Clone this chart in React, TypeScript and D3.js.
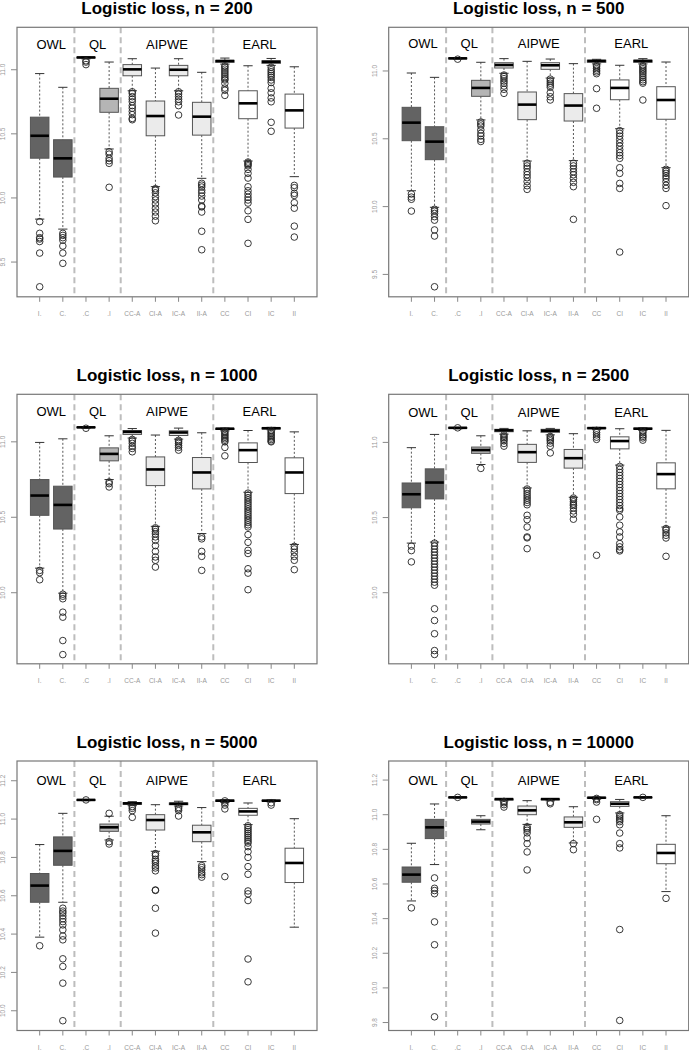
import * as d3 from 'd3';

const categories = ['I.', 'C.', '.C', '.I', 'CC-A', 'CI-A', 'IC-A', 'II-A', 'CC', 'CI', 'IC', 'II'];
const groupLabels = ['OWL', 'QL', 'AIPWE', 'EARL'];
const groupSizes = [2, 2, 4, 4];
const sampleSizes = [200, 500, 1000, 2500, 5000, 10000];

// each row: [lower whisker, q1, median, q3, upper whisker]
const stats200 = [
  [9.835, 10.31, 10.485, 10.63, 10.97],
  [9.757, 10.163, 10.309, 10.454, 10.863],
  [11.085, 11.092, 11.096, 11.098, 11.1],
  [10.382, 10.668, 10.774, 10.855, 11.06],
  [10.836, 10.953, 11.003, 11.04, 11.086],
  [10.088, 10.485, 10.639, 10.756, 11.013],
  [10.836, 10.953, 11.0, 11.034, 11.086],
  [10.153, 10.49, 10.634, 10.746, 10.98],
  [11.044, 11.058, 11.068, 11.073, 11.091],
  [10.288, 10.618, 10.738, 10.836, 11.031],
  [11.034, 11.05, 11.062, 11.07, 11.088],
  [10.166, 10.545, 10.683, 10.81, 11.023],
];
const outliers200 = [
  [9.815, 9.724, 9.69, 9.68, 9.66, 9.57, 9.307],
  [9.724, 9.708, 9.69, 9.67, 9.625, 9.57, 9.49],
  [11.07, 11.06, 11.04],
  [10.36, 10.342, 10.309, 10.29, 10.27, 10.083],
  [10.828, 10.815, 10.79, 10.77, 10.75, 10.72, 10.7, 10.675, 10.65, 10.62, 10.61],
  [10.072, 10.06, 10.04, 10.01, 9.984, 9.953, 9.92, 9.89, 9.858, 9.822],
  [10.828, 10.81, 10.79, 10.77, 10.75, 10.72, 10.647],
  [10.114, 10.1, 10.085, 10.06, 10.04, 10.015, 9.984, 9.937, 9.93, 9.89, 9.74, 9.596],
  [11.03, 11.02, 11.005, 10.99, 10.975, 10.96, 10.945, 10.93, 10.92, 10.894, 10.857, 10.84, 10.8],
  [10.28, 10.27, 10.26, 10.25, 10.223, 10.192, 10.155, 10.087, 10.056, 10.03, 10.005, 9.984, 9.96, 9.9, 9.833, 9.646],
  [11.02, 11.0, 10.985, 10.97, 10.955, 10.94, 10.92, 10.9, 10.855, 10.82, 10.78, 10.75, 10.59, 10.52],
  [10.098, 10.08, 10.036, 10.02, 9.963, 9.92, 9.78, 9.695],
];

const stats500 = [
  [10.117, 10.486, 10.619, 10.732, 10.985],
  [9.995, 10.346, 10.479, 10.589, 10.953],
  [11.088, 11.09, 11.093, 11.096, 11.098],
  [10.639, 10.813, 10.875, 10.931, 11.064],
  [10.983, 11.022, 11.044, 11.061, 11.091],
  [10.336, 10.641, 10.752, 10.845, 11.071],
  [10.948, 11.012, 11.042, 11.061, 11.088],
  [10.339, 10.631, 10.745, 10.833, 11.054],
  [11.052, 11.064, 11.074, 11.079, 11.086],
  [10.574, 10.788, 10.875, 10.934, 11.042],
  [11.052, 11.064, 11.074, 11.079, 11.091],
  [10.287, 10.644, 10.786, 10.884, 11.066],
];
const outliers500 = [
  [10.093, 10.07, 10.054, 9.967],
  [9.98, 9.966, 9.95, 9.926, 9.9, 9.828, 9.783, 9.409],
  [11.087],
  [10.624, 10.609, 10.594, 10.565, 10.54, 10.521, 10.496, 10.48],
  [10.97, 10.958, 10.943, 10.926, 10.91, 10.889, 10.865, 10.835],
  [10.32, 10.3, 10.282, 10.257, 10.235, 10.213, 10.184, 10.154, 10.127],
  [10.94, 10.925, 10.91, 10.895, 10.88, 10.84, 10.81, 10.786],
  [10.32, 10.3, 10.28, 10.257, 10.235, 10.208, 10.179, 10.147, 9.906],
  [11.04, 11.03, 11.017, 11.005, 10.993, 10.98, 10.87, 10.725],
  [10.56, 10.54, 10.52, 10.495, 10.47, 10.446, 10.42, 10.397, 10.377, 10.356, 10.287, 10.245, 10.171, 10.134, 9.665],
  [11.04, 11.03, 11.017, 11.005, 10.993, 10.98, 10.965, 10.95, 10.935, 10.921, 10.91, 10.786],
  [10.275, 10.26, 10.245, 10.226, 10.208, 10.184, 10.157, 10.134, 10.007],
];

const stats1000 = [
  [10.163, 10.513, 10.644, 10.75, 10.996],
  [9.997, 10.422, 10.582, 10.706, 11.02],
  [11.09, 11.094, 11.096, 11.098, 11.1],
  [10.75, 10.874, 10.92, 10.96, 11.04],
  [11.025, 11.049, 11.066, 11.075, 11.088],
  [10.44, 10.71, 10.817, 10.9, 11.045],
  [11.018, 11.042, 11.062, 11.073, 11.091],
  [10.392, 10.688, 10.797, 10.896, 11.06],
  [11.073, 11.082, 11.087, 11.089, 11.091],
  [10.666, 10.863, 10.945, 10.993, 11.075],
  [11.08, 11.086, 11.09, 11.093, 11.096],
  [10.32, 10.657, 10.797, 10.894, 11.066],
];
const outliers1000 = [
  [10.148, 10.133, 10.086],
  [9.99, 9.977, 9.96, 9.871, 9.838, 9.683, 9.59],
  [11.09],
  [10.734, 10.723, 10.701],
  [11.016, 11.005, 10.99, 10.97, 10.956, 10.934],
  [10.43, 10.42, 10.405, 10.39, 10.37, 10.347, 10.312, 10.274, 10.237, 10.215, 10.17],
  [11.01, 11.0, 10.99, 10.976, 10.963, 10.945],
  [10.37, 10.357, 10.274, 10.241, 10.148],
  [11.07, 11.06, 11.05, 11.04, 11.03, 11.02, 11.01, 11.0, 10.963, 10.907],
  [10.66, 10.645, 10.63, 10.615, 10.6, 10.585, 10.57, 10.555, 10.54, 10.525, 10.51, 10.495, 10.48, 10.465, 10.45, 10.436, 10.385, 10.334, 10.281, 10.26, 10.159, 10.13, 10.02],
  [11.075, 11.065, 11.055, 11.045, 11.035, 11.025, 11.015, 11.005, 11.0],
  [10.307, 10.29, 10.268, 10.241, 10.215, 10.153],
];

const stats2500 = [
  [10.33, 10.565, 10.655, 10.73, 10.965],
  [10.337, 10.624, 10.733, 10.824, 11.053],
  [11.09, 11.094, 11.097, 11.099, 11.1],
  [10.853, 10.927, 10.949, 10.969, 11.044],
  [11.055, 11.071, 11.08, 11.087, 11.093],
  [10.697, 10.867, 10.935, 10.987, 11.077],
  [11.05, 11.067, 11.078, 11.087, 11.093],
  [10.635, 10.829, 10.895, 10.953, 11.058],
  [11.087, 11.092, 11.095, 11.098, 11.1],
  [10.849, 10.957, 11.009, 11.037, 11.091],
  [11.08, 11.088, 11.091, 11.095, 11.097],
  [10.437, 10.691, 10.789, 10.864, 11.08],
];
const outliers2500 = [
  [10.31, 10.28, 10.205],
  [10.33, 10.31, 10.29, 10.27, 10.25, 10.23, 10.21, 10.19, 10.17, 10.15, 10.13, 10.11, 10.09, 10.07, 10.05, 9.893, 9.815, 9.727, 9.615, 9.589],
  [11.097],
  [10.827],
  [11.05, 11.04, 11.03, 11.02, 11.01, 10.993, 10.975],
  [10.69, 10.675, 10.66, 10.645, 10.63, 10.615, 10.6, 10.585, 10.515, 10.486, 10.437, 10.371, 10.365, 10.293],
  [11.04, 11.03, 11.02, 11.01, 10.995, 10.975, 10.93],
  [10.63, 10.62, 10.605, 10.59, 10.58, 10.564, 10.544, 10.522, 10.489],
  [11.08, 11.065, 11.05, 11.035, 11.02, 10.249],
  [10.84, 10.82, 10.8, 10.78, 10.76, 10.74, 10.72, 10.7, 10.68, 10.66, 10.64, 10.62, 10.6, 10.58, 10.56, 10.549, 10.504, 10.449, 10.404, 10.371, 10.327, 10.305, 10.287, 10.278],
  [11.075, 11.065, 11.05, 11.04, 11.03, 11.015],
  [10.427, 10.416, 10.398, 10.382, 10.364, 10.242],
];

const stats5000 = [
  [10.384, 10.566, 10.653, 10.716, 10.867],
  [10.566, 10.759, 10.834, 10.907, 11.03],
  [11.096, 11.098, 11.1, 11.101, 11.102],
  [10.891, 10.936, 10.957, 10.974, 11.015],
  [11.07, 11.077, 11.082, 11.086, 11.091],
  [10.832, 10.943, 10.995, 11.023, 11.075],
  [11.068, 11.075, 11.08, 11.084, 11.093],
  [10.778, 10.882, 10.931, 10.968, 11.06],
  [11.087, 11.092, 11.096, 11.099, 11.101],
  [10.971, 11.02, 11.04, 11.056, 11.084],
  [11.09, 11.094, 11.096, 11.098, 11.1],
  [10.436, 10.669, 10.771, 10.848, 11.002],
];
const outliers5000 = [
  [10.339],
  [10.535, 10.52, 10.51, 10.495, 10.48, 10.465, 10.448, 10.422, 10.39, 10.37, 10.271, 10.231, 10.144, 9.948],
  [11.1],
  [11.03, 10.882, 10.87],
  [11.065, 11.056, 11.044, 11.009],
  [10.82, 10.81, 10.79, 10.78, 10.77, 10.755, 10.745, 10.73, 10.63, 10.628, 10.535, 10.405],
  [11.06, 11.053, 11.044, 11.016],
  [10.757, 10.747, 10.735, 10.72, 10.71, 10.697],
  [11.095, 11.085, 11.073, 11.053, 10.7],
  [10.965, 10.955, 10.945, 10.935, 10.925, 10.915, 10.905, 10.895, 10.885, 10.875, 10.856, 10.83, 10.8, 10.752, 10.712, 10.625, 10.61, 10.575, 10.27, 10.151],
  [11.085, 11.073],
  [],
];

const stats10000 = [
  [10.502, 10.61, 10.654, 10.698, 10.835],
  [10.712, 10.862, 10.927, 10.973, 11.062],
  [11.096, 11.098, 11.1, 11.101, 11.102],
  [10.913, 10.946, 10.96, 10.973, 10.994],
  [11.08, 11.085, 11.09, 11.091, 11.093],
  [10.944, 11.0, 11.025, 11.05, 11.081],
  [11.08, 11.086, 11.09, 11.091, 11.093],
  [10.837, 10.927, 10.956, 10.987, 11.046],
  [11.09, 11.095, 11.098, 11.1, 11.101],
  [11.01, 11.048, 11.063, 11.075, 11.088],
  [11.096, 11.098, 11.1, 11.101, 11.102],
  [10.556, 10.717, 10.779, 10.829, 10.994],
];
const outliers10000 = [
  [10.462],
  [10.635, 10.575, 10.562, 10.544, 10.381, 10.249, 9.833],
  [11.1],
  [],
  [11.077, 11.069, 11.058, 11.044],
  [10.93, 10.92, 10.91, 10.895, 10.866, 10.833, 10.785, 10.681],
  [11.071, 11.063],
  [10.833, 10.798],
  [11.094, 11.087, 11.073, 10.973],
  [11.0, 10.99, 10.98, 10.97, 10.96, 10.942, 10.894, 10.833, 10.808, 10.337, 9.812],
  [11.1],
  [10.517],
];

const yDomains = [
  [9.229, 11.331],
  [9.335, 11.322],
  [9.529, 11.315],
  [9.527, 11.32],
  [9.897, 11.303],
  [9.754, 11.31],
];
const yTicks = [
  [9.5, 10, 10.5, 11],
  [9.5, 10, 10.5, 11],
  [10, 10.5, 11],
  [10, 10.5, 11],
  [10, 10.2, 10.4, 10.6, 10.8, 11, 11.2],
  [9.8, 10, 10.2, 10.4, 10.6, 10.8, 11, 11.2],
];
const groupLabelLevel = 11.2;

const allStats = [stats200, stats500, stats1000, stats2500, stats5000, stats10000];
const allOutliers = [outliers200, outliers500, outliers1000, outliers2500, outliers5000, outliers10000];

const W = 689;
const H = 1050;
const colLeft = [17, 388.7];
const rowTop = [27.3, 394.3, 761];
const plotW = 300;
const plotH = 269.5;
const groupFill = ['#636363', '#b5b5b5', '#ebebeb', '#ffffff'];
const font = "'Liberation Sans', Arial, Helvetica, sans-serif";

// which group each category belongs to, and the group boundaries
const catGroup: number[] = groupSizes.flatMap((s, g) => d3.range(s).map(() => g));
const groupEnds = Array.from(d3.cumsum(groupSizes));

type PanelProps = {
  n: number;
  stats: number[][];
  outliers: number[][];
  domain: number[];
  ticks: number[];
  left: number;
  top: number;
};

function Panel({ n, stats, outliers, domain, ticks, left, top }: PanelProps) {
  const x = d3.scaleLinear().domain([0.02, categories.length + 0.98]).range([left, left + plotW]);
  const y = d3.scaleLinear().domain(domain).range([top + plotH, top]);
  const half = x(1.4) - x(1);
  const cap = half / 2;
  const bottom = top + plotH;
  const fmt = d3.format('.1f');

  return (
    <g>
      <text
        x={left + plotW / 2}
        y={top - 13.5}
        textAnchor="middle"
        fontFamily={font}
        fontWeight="bold"
        fontSize={17}
        fill="#000"
      >
        {`Logistic loss, n = ${n}`}
      </text>

      {groupEnds.slice(0, -1).map((e) => (
        <line
          key={'sep' + e}
          x1={x(e + 0.5)}
          x2={x(e + 0.5)}
          y1={top}
          y2={bottom}
          stroke="#bdbdbd"
          strokeWidth={2}
          strokeDasharray="6 4"
        />
      ))}

      {groupLabels.map((g, i) => {
        const start = i === 0 ? 0 : groupEnds[i - 1];
        const mid = (start + 1 + groupEnds[i]) / 2;
        return (
          <text
            key={g}
            x={x(mid)}
            y={y(groupLabelLevel)}
            dy="0.35em"
            textAnchor="middle"
            fontFamily={font}
            fontSize={13}
            fill="#000"
          >
            {g}
          </text>
        );
      })}

      {stats.map((s, i) => {
        const cx = x(i + 1);
        const [lo, q1, med, q3, hi] = s;
        return (
          <g key={categories[i]}>
            <line x1={cx} x2={cx} y1={y(hi)} y2={y(q3)} stroke="#444" strokeWidth={0.9} strokeDasharray="2 2" />
            <line x1={cx} x2={cx} y1={y(q1)} y2={y(lo)} stroke="#444" strokeWidth={0.9} strokeDasharray="2 2" />
            <line x1={cx - cap} x2={cx + cap} y1={y(hi)} y2={y(hi)} stroke="#333" strokeWidth={1} />
            <line x1={cx - cap} x2={cx + cap} y1={y(lo)} y2={y(lo)} stroke="#333" strokeWidth={1} />
            <rect
              x={cx - half}
              y={y(q3)}
              width={half * 2}
              height={Math.max(0.5, y(q1) - y(q3))}
              fill={groupFill[catGroup[i]]}
              stroke="#555"
              strokeWidth={1}
            />
            <line x1={cx - half} x2={cx + half} y1={y(med)} y2={y(med)} stroke="#000" strokeWidth={2.6} />
            {outliers[i].map((v, k) => (
              <circle key={k} cx={cx} cy={y(v)} r={3.3} fill="none" stroke="#222" strokeWidth={0.9} />
            ))}
          </g>
        );
      })}

      <rect x={left} y={top} width={plotW} height={plotH} fill="none" stroke="#777" strokeWidth={1.2} />

      {ticks.map((t) => (
        <g key={'yt' + t}>
          <line x1={left - 6} x2={left} y1={y(t)} y2={y(t)} stroke="#888" strokeWidth={1} />
          <text
            transform={`translate(${left - 14},${y(t)}) rotate(-90)`}
            textAnchor="middle"
            dy="0.35em"
            fontFamily={font}
            fontSize={6.5}
            fill="#999"
          >
            {fmt(t)}
          </text>
        </g>
      ))}

      {categories.map((c, i) => (
        <g key={'xt' + c}>
          <line x1={x(i + 1)} x2={x(i + 1)} y1={bottom} y2={bottom + 5} stroke="#888" strokeWidth={1} />
          <text
            x={x(i + 1)}
            y={bottom + 17}
            dy="0.35em"
            textAnchor="middle"
            fontFamily={font}
            fontSize={6.5}
            fill="#999"
          >
            {c}
          </text>
        </g>
      ))}
    </g>
  );
}

export default function App() {
  return (
    <svg
      width={W}
      height={H}
      viewBox={`0 0 ${W} ${H}`}
      style={{ position: 'absolute', left: 0, top: 0, display: 'block', background: '#fff' }}
    >
      {sampleSizes.map((n, i) => (
        <Panel
          key={n}
          n={n}
          stats={allStats[i]}
          outliers={allOutliers[i]}
          domain={yDomains[i]}
          ticks={yTicks[i]}
          left={colLeft[i % 2]}
          top={rowTop[Math.floor(i / 2)]}
        />
      ))}
    </svg>
  );
}
